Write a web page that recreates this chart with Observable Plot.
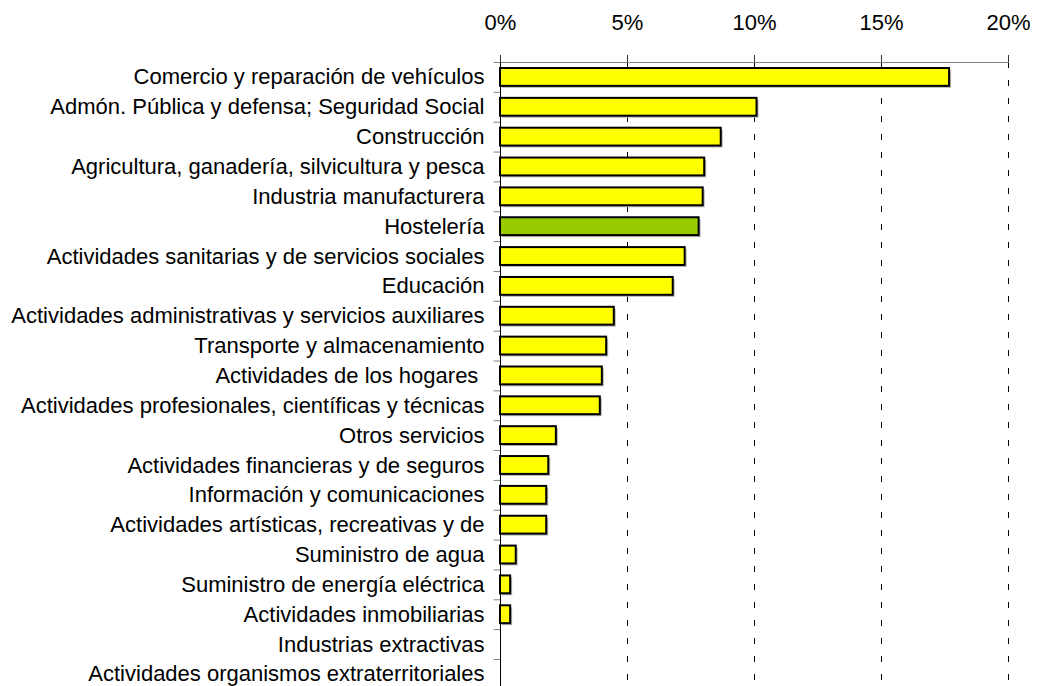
<!DOCTYPE html>
<html>
<head>
<meta charset="utf-8">
<script src="https://cdn.jsdelivr.net/npm/d3@7"></script>
<script src="https://cdn.jsdelivr.net/npm/@observablehq/plot@0.6"></script>
<style>
  html, body { margin: 0; padding: 0; background: #fff; overflow: hidden; }
  #chart svg { display: block; }
</style>
</head>
<body>
<div id="chart"></div>
<script>
const categories = [
  "Comercio y reparación de vehículos",
  "Admón. Pública y defensa; Seguridad Social",
  "Construcción",
  "Agricultura, ganadería, silvicultura y pesca",
  "Industria manufacturera",
  "Hostelería",
  "Actividades sanitarias y de servicios sociales",
  "Educación",
  "Actividades administrativas y servicios auxiliares",
  "Transporte y almacenamiento",
  "Actividades de los hogares\u00a0",
  "Actividades profesionales, científicas y técnicas",
  "Otros servicios",
  "Actividades financieras y de seguros",
  "Información y comunicaciones",
  "Actividades artísticas, recreativas y de",
  "Suministro de agua",
  "Suministro de energía eléctrica",
  "Actividades inmobiliarias",
  "Industrias extractivas",
  "Actividades organismos extraterritoriales"
];
const values = [
  0.1768, 0.1010, 0.0869, 0.0804, 0.0798, 0.0782, 0.0727, 0.0680,
  0.0448, 0.0418, 0.0401, 0.0393, 0.0220, 0.0190, 0.0182, 0.0182,
  0.0062, 0.0040, 0.0040, 0.0, 0.0
];
const highlighted = ["Hostelería"];
const xTicks = [0, 0.05, 0.10, 0.15, 0.20];

const data = categories.map((c, i) => ({cat: c, value: values[i]}));
const step = 29.85;

const chart = Plot.plot({
  width: 1037,
  height: 686,
  marginLeft: 500,
  marginRight: 29,
  marginTop: 62,
  marginBottom: 0,
  style: {fontFamily: "'Liberation Sans', Arial, sans-serif", fontSize: "22px", color: "#000", background: "#fff", overflow: "hidden"},
  x: {domain: [0, 0.2], range: [500, 1008]},
  y: {domain: categories, range: [62, 62 + step * categories.length], padding: 0, round: false},
  marks: [
    Plot.gridX(xTicks, {stroke: "#000", strokeOpacity: 1, strokeWidth: 1, strokeDasharray: "6,12"}),
    Plot.axisX({anchor: "top", ticks: xTicks, tickFormat: d3.format(".0%"), tickSize: 8, tickPadding: 25, stroke: "#333", fontSize: 22, label: null}),
    Plot.axisY({anchor: "left", tickSize: 0, tickPadding: 16, fontSize: 22, label: null}),
    Plot.ruleY(categories, {y: d => d, x1: -0.0025, x2: 0, dy: -step / 2, stroke: "#808080"}),
    Plot.frame({anchor: "top", stroke: "#808080"}),
    Plot.barX(data, {x: "value", y: "cat", fill: "#b4b4b4", insetTop: 6, insetBottom: 6, dx: 2, dy: 2}),
    Plot.barX(data, {x: "value", y: "cat", fill: d => highlighted.includes(d.cat) ? "#99CC00" : "#FFFF00", stroke: "#000", strokeWidth: 2, insetTop: 6, insetBottom: 6}),
    Plot.frame({anchor: "left", stroke: "#000"})
  ]
});
document.getElementById("chart").append(chart);
</script>
</body>
</html>
